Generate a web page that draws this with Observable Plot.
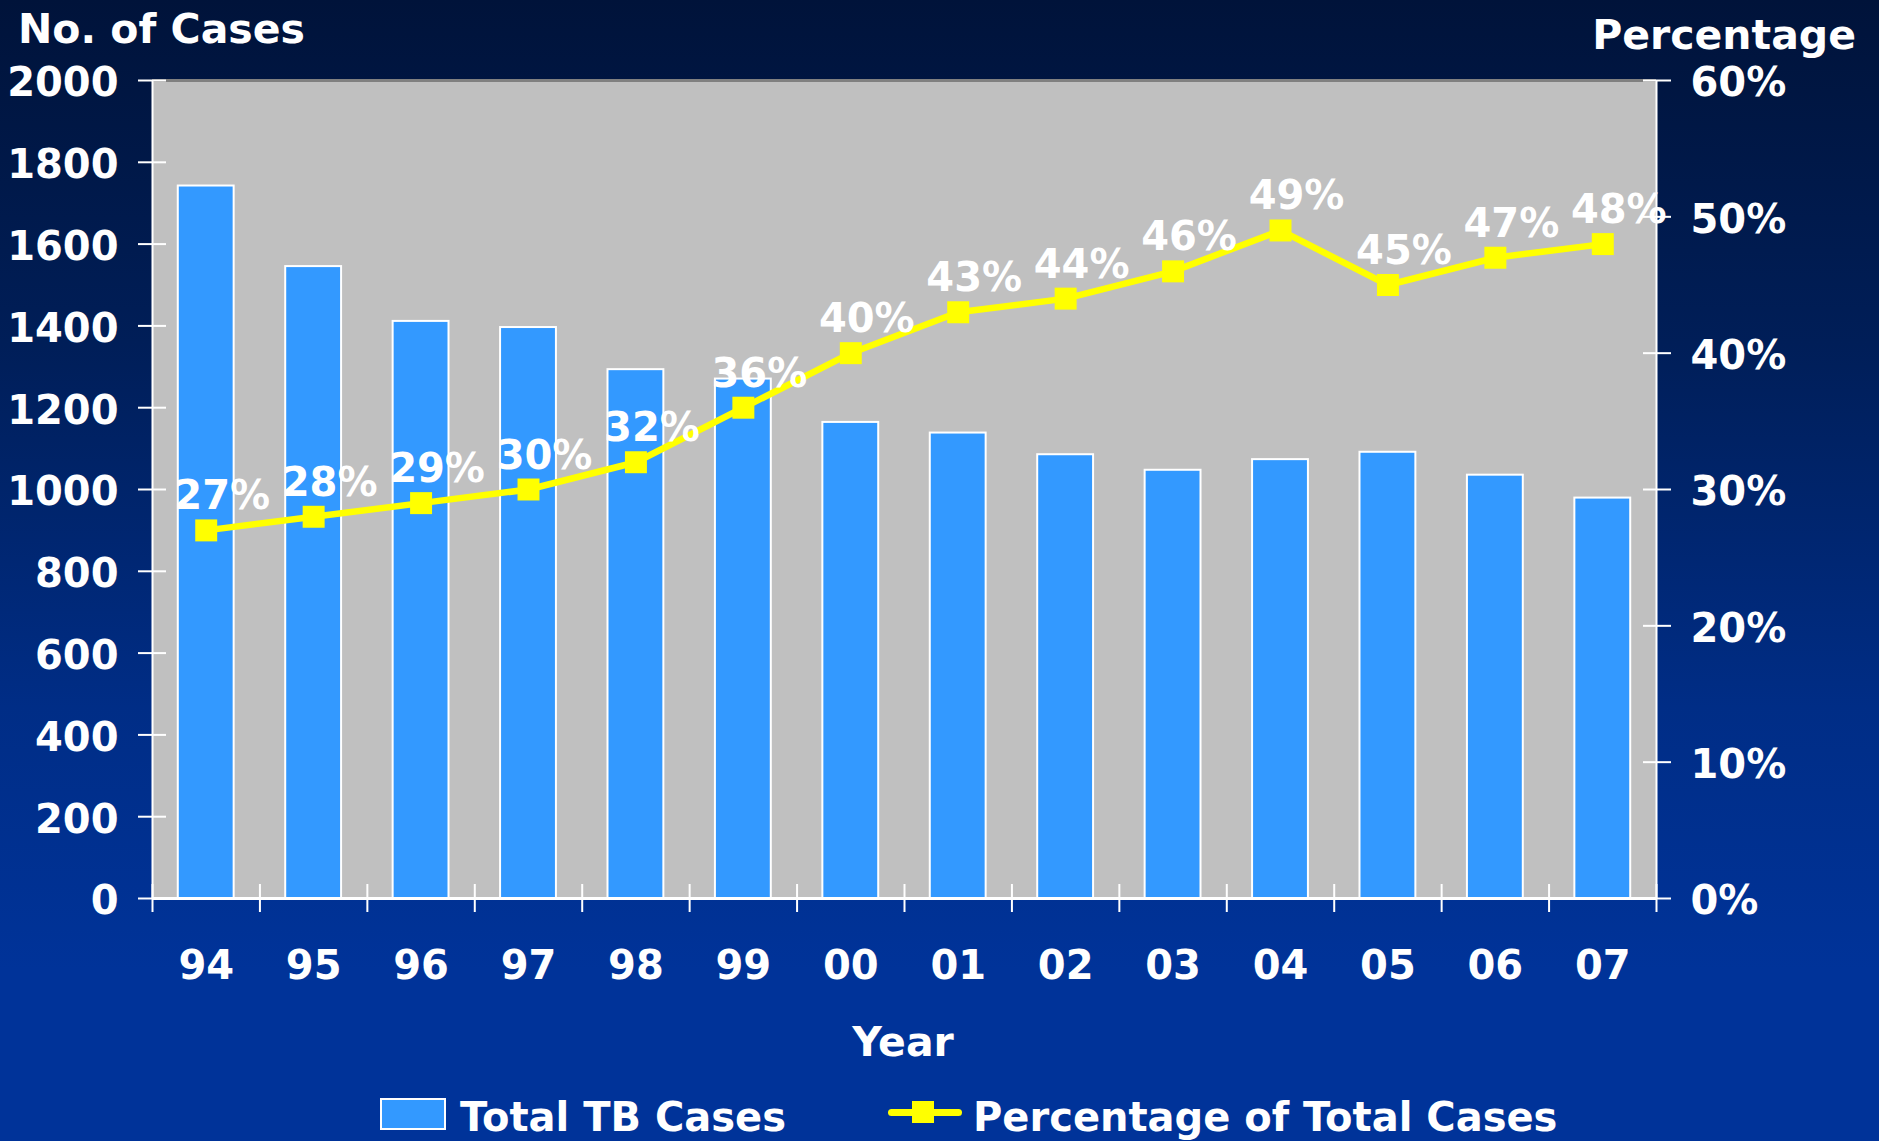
<!DOCTYPE html>
<html>
<head>
<meta charset="utf-8">
<script src="https://cdn.jsdelivr.net/npm/d3@7"></script>
<script src="https://cdn.jsdelivr.net/npm/@observablehq/plot@0.6"></script>
<style>
  html, body { margin: 0; padding: 0; overflow: hidden; }
  #wrap {
    position: relative; width: 1879px; height: 1141px; overflow: hidden;
    background: linear-gradient(to bottom, #00133a 0%, #001e58 30%, #002d86 62%, #003399 85%, #003399 100%);
    font-family: "DejaVu Sans", sans-serif; font-weight: bold; color: white;
  }
  .lbl { position: absolute; line-height: 1; white-space: nowrap; font-size: 41px; }
  .leg { font-size: 40px; }
  #chart { position: absolute; left: 0; top: 0; }
</style>
</head>
<body>
<div id="wrap">
  <div id="chart"></div>
  <div class="lbl" style="left:18px; top:9px;">No. of Cases</div>
  <div class="lbl" style="right:23px; top:15px;">Percentage</div>
  <div class="lbl" style="left:0; width:1806px; text-align:center; top:1022px;">Year</div>
  <div style="position:absolute; left:380px; top:1098px; width:62px; height:28px; background:#3399ff; border:2px solid white;"></div>
  <div class="lbl leg" style="left:460px; top:1097px;">Total TB Cases</div>
  <div style="position:absolute; left:888px; top:1109px; width:74px; height:7px; background:#ffff00; border-radius:4px;"></div>
  <div style="position:absolute; left:912px; top:1101px; width:22px; height:22px; background:#ffff00;"></div>
  <div class="lbl leg" style="left:973px; top:1097px;">Percentage of Total Cases</div>
</div>
<script>
const years = ["94","95","96","97","98","99","00","01","02","03","04","05","06","07"];
const cases = [1742, 1545, 1411, 1396, 1293, 1270, 1164, 1138, 1085, 1047, 1073, 1091, 1035, 979];
const percents = [27, 28, 29, 30, 32, 36, 40, 43, 44, 46, 49, 45, 47, 48];
const caseTicks = [0, 200, 400, 600, 800, 1000, 1200, 1400, 1600, 1800, 2000];
const pctTicks = [0, 10, 20, 30, 40, 50, 60];

const caseMax = caseTicks[caseTicks.length - 1];
const pctMax = pctTicks[pctTicks.length - 1];
const pctToY = p => p / pctMax * caseMax;

const data = years.map((y, i) => ({i, year: y, cases: cases[i], pct: percents[i]}));

const chart = Plot.plot({
  width: 1879,
  height: 1141,
  marginLeft: 152,
  marginRight: 223,
  marginTop: 80,
  marginBottom: 243,
  style: {
    background: "transparent",
    color: "white",
    fontFamily: "'DejaVu Sans', sans-serif",
    fontSize: "40px",
    fontWeight: "bold",
    overflow: "visible"
  },
  x: {type: "linear", domain: [0, years.length], axis: null},
  y: {domain: [0, caseMax], axis: null},
  marks: [
    Plot.frame({fill: "#c0c0c0", stroke: "none"}),
    Plot.ruleY([caseMax], {stroke: "#808080", strokeWidth: 3}),
    Plot.rectY(data, {
      x1: d => d.i + 0.24, x2: d => d.i + 0.76, y: "cases",
      fill: "#3399ff", stroke: "white", strokeWidth: 2
    }),
    Plot.ruleX([0, years.length], {stroke: "white", strokeWidth: 2}),
    Plot.ruleY([0], {stroke: "white", strokeWidth: 3}),
    // left axis: crossing ticks and labels
    Plot.axisY({ticks: caseTicks, tickSize: 28, dx: 14, fill: "none", stroke: "white", strokeWidth: 2, label: null}),
    Plot.axisY({ticks: caseTicks, tickFormat: d => String(d), tickSize: 0, tickPadding: 34, dy: 3,
      fill: "white", fontSize: 40, fontWeight: "bold", label: null}),
    // right axis
    Plot.axisY({anchor: "right", ticks: pctTicks.map(pctToY), tickSize: 28, dx: -14, fill: "none", stroke: "white", strokeWidth: 2, label: null}),
    Plot.axisY({anchor: "right", ticks: pctTicks.map(pctToY), tickFormat: v => Math.round(v / caseMax * pctMax) + "%",
      tickSize: 0, tickPadding: 34, dy: 3, fill: "white", fontSize: 40, fontWeight: "bold", label: null}),
    // bottom axis: ticks at category boundaries, labels at centers
    Plot.axisX({ticks: d3.range(years.length + 1), tickSize: 28, dy: -14, fill: "none", stroke: "white", strokeWidth: 2, label: null}),
    Plot.axisX({ticks: years.map((_, i) => i + 0.5), tickFormat: v => years[Math.floor(v)],
      tickSize: 0, tickPadding: 52, fill: "white", fontSize: 40, fontWeight: "bold", label: null}),
    // percentage line
    Plot.line(data, {x: d => d.i + 0.5, y: d => pctToY(d.pct), stroke: "#ffff00", strokeWidth: 6.5}),
    Plot.dot(data, {x: d => d.i + 0.5, y: d => pctToY(d.pct), symbol: "square", r: 12.4, fill: "#ffff00", stroke: "none"}),
    Plot.text(data, {x: d => d.i + 0.5, y: d => pctToY(d.pct), text: d => d.pct + "%",
      dx: 16, dy: -21, lineAnchor: "bottom", fill: "white", fontSize: 40, fontWeight: "bold"})
  ]
});
document.getElementById("chart").appendChild(chart);
</script>
</body>
</html>
